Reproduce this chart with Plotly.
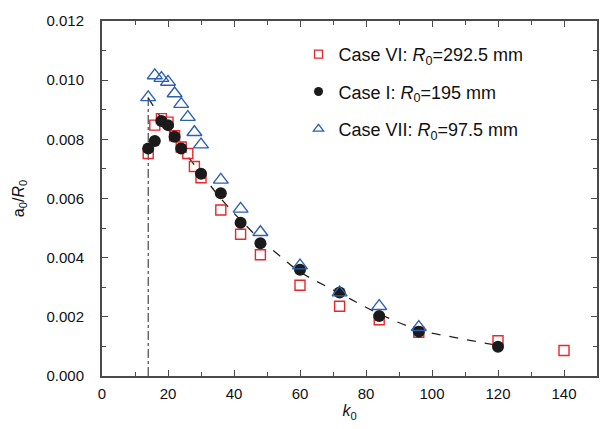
import plotly.graph_objects as go

# Case VI: R0 = 292.5 mm (red open squares)
k_vi = [14, 16, 18, 20, 22, 24, 26, 28, 30, 36, 42, 48, 60, 72, 84, 96, 120, 140]
a_vi = [0.00752, 0.00848, 0.00870, 0.00858, 0.00812, 0.00774, 0.00752, 0.00708, 0.00670,
        0.00561, 0.00479, 0.00410, 0.00307, 0.00236, 0.00190, 0.00148, 0.00119, 0.00086]

# Case I: R0 = 195 mm (black filled circles)
k_i = [14, 16, 18, 20, 22, 24, 30, 36, 42, 48, 60, 72, 84, 96, 120]
a_i = [0.00769, 0.00794, 0.00862, 0.00848, 0.00809, 0.00769, 0.00684, 0.00618,
       0.00518, 0.00449, 0.00359, 0.00282, 0.00203, 0.00150, 0.00099]

# Case VII: R0 = 97.5 mm (blue open triangles)
k_vii = [14, 16, 18, 20, 22, 24, 26, 28, 30, 36, 42, 48, 60, 72, 84, 96]
a_vii = [0.00942, 0.01016, 0.01007, 0.00994, 0.00955, 0.00919, 0.00875, 0.00824, 0.00782,
         0.00663, 0.00565, 0.00486, 0.00373, 0.00282, 0.00236, 0.00165]

# dashed trend curve
k_fit = [14, 18, 24, 30, 36, 42, 48, 54, 60, 72, 84, 96, 108, 120]
a_fit = [0.00940, 0.00870, 0.00772, 0.00685, 0.00600, 0.00527, 0.00461, 0.00405, 0.00352,
         0.00280, 0.00210, 0.00156, 0.00128, 0.00103]

# vertical dash-dot line at k0 = 14
k_vert = [14, 14]
a_vert = [0.0, 0.00942]

legend_names = [
    "Case VI: <i>R</i><sub>0</sub>=292.5 mm",
    "Case I: <i>R</i><sub>0</sub>=195 mm",
    "Case VII: <i>R</i><sub>0</sub>=97.5 mm",
]

RED = "#e8262b"
BLUE = "#2d5fb3"
BLACK = "#1a1a1a"
FONT = "Liberation Sans, Arial"

fig = go.Figure()

fig.add_trace(go.Scatter(x=k_vert, y=a_vert, mode="lines", showlegend=False,
                         line=dict(color="#222", width=1, dash="dashdot")))
fig.add_trace(go.Scatter(x=k_fit, y=a_fit, mode="lines", showlegend=False,
                         line=dict(color="#222", width=1.3, dash="dash", shape="spline")))

fig.add_trace(go.Scatter(x=k_vi, y=a_vi, mode="markers", showlegend=False,
                         marker=dict(symbol="square-open", size=10, color=RED, line=dict(width=1.4, color=RED))))
fig.add_trace(go.Scatter(x=k_i, y=a_i, mode="markers", showlegend=False,
                         marker=dict(symbol="circle", size=12, color=BLACK, line=dict(width=0))))
fig.add_trace(go.Scatter(x=k_vii, y=a_vii, mode="markers", showlegend=False,
                         marker=dict(symbol="triangle-up-open", size=13, color=BLUE, line=dict(width=1.4, color=BLUE))))

# legend-only entries with small symbols, as in the reference
fig.add_trace(go.Scatter(x=[None], y=[None], mode="markers", name=legend_names[0], legendgroup="g1",
                         marker=dict(symbol="square-open", size=8, color=RED, line=dict(width=1.3, color=RED))))
fig.add_trace(go.Scatter(x=[None], y=[None], mode="markers", name=legend_names[1], legendgroup="g2",
                         marker=dict(symbol="circle", size=9, color=BLACK, line=dict(width=0))))
fig.add_trace(go.Scatter(x=[None], y=[None], mode="markers", name=legend_names[2], legendgroup="g3",
                         marker=dict(symbol="triangle-up-open", size=9, color=BLUE, line=dict(width=1.3, color=BLUE))))

axis_common = dict(
    showline=True, linecolor="#4a4a4a", linewidth=2, mirror="allticks",
    ticks="inside", ticklen=6, tickwidth=1.3, tickcolor="#4a4a4a",
    showgrid=False, zeroline=False,
    tickfont=dict(family=FONT, size=15, color="#111"),
)

fig.update_xaxes(range=[0, 150], dtick=20, tick0=0, ticklabelstandoff=3,
                 minor=dict(ticks="inside", dtick=10, ticklen=4, tickcolor="#4a4a4a", tickwidth=1.2),
                 title=dict(text="<i>k</i><sub>0</sub>", font=dict(family=FONT, size=16, color="#111"), standoff=4),
                 **axis_common)
fig.update_yaxes(range=[0, 0.012], dtick=0.002, tick0=0, tickformat=".3f", ticklabelstandoff=13,
                 minor=dict(ticks="inside", dtick=0.001, ticklen=4, tickcolor="#4a4a4a", tickwidth=1.2),
                 title=dict(text="a<sub>0</sub>/<i>R</i><sub>0</sub>", font=dict(family=FONT, size=16, color="#111"), standoff=18),
                 **axis_common)

fig.update_layout(
    width=612, height=429,
    margin=dict(l=102, r=15, t=14, b=51),
    paper_bgcolor="white", plot_bgcolor="white",
    font=dict(family=FONT, color="#111"),
    legend=dict(x=0.397, y=0.958, xanchor="left", yanchor="top",
                bgcolor="rgba(0,0,0,0)", borderwidth=0,
                font=dict(family=FONT, size=18, color="#111"),
                tracegroupgap=11, itemwidth=30),
    showlegend=True,
)

fig.write_html("out.html")
